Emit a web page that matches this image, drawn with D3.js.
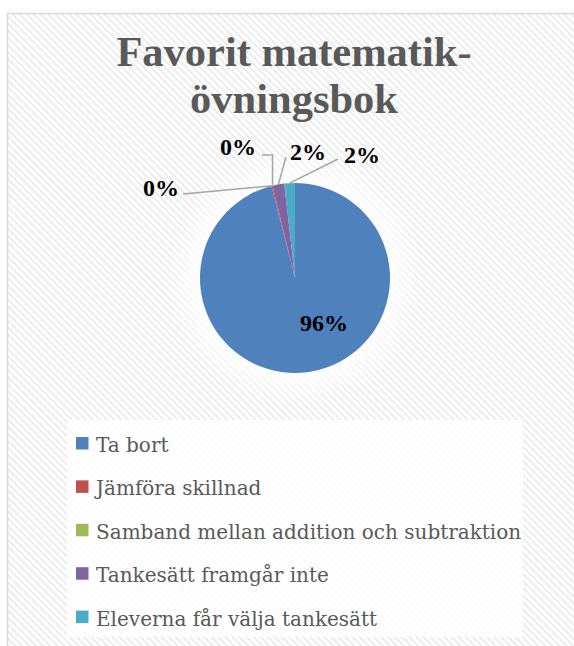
<!DOCTYPE html>
<html>
<head>
<meta charset="utf-8">
<script src="https://cdn.jsdelivr.net/npm/d3@7"></script>
<style>body{margin:0;background:#fff;overflow:hidden}</style>
</head>
<body>
<script>
// DATA
var categories = ["Ta bort", "Jämföra skillnad", "Samband mellan addition och subtraktion", "Tankesätt framgår inte", "Eleverna får välja tankesätt"];
var values = [96.0, 0.2, 0, 2.0, 1.8];
var colors = ["#4f81bd", "#c0504d", "#9bbb59", "#8064a2", "#4bacc6"];
var titleLines = ["Favorit matematik-", "övningsbok"];

// LAYOUT
var w = 574, h = 646;
var cx = 295, cy = 278, rad = 95;
// label centres relative to the pie centre (as placed in the original)
var labelPos = [[29, 45], [-134, -90], [-57, -131], [13, -126], [67, -123]];
// where each leader line leaves its label (null = no leader)
var leaderStart = [null, [-112, -84], [-33, -123], [-9, -121], [43, -119]];
var elbow = [false, false, true, false, false];

var svg = d3.select("body").append("svg")
  .attr("width", w)
  .attr("height", h);

var defs = svg.append("defs");
var pat = defs.append("pattern")
  .attr("id", "stripes")
  .attr("patternUnits", "userSpaceOnUse")
  .attr("width", 5)
  .attr("height", 5)
  .attr("patternTransform", "rotate(45)");
pat.append("rect").attr("width", 5).attr("height", 5).attr("fill", "#ffffff");
pat.append("rect").attr("width", 5).attr("height", 2.2).attr("fill", "#ededed");

var glow = defs.append("radialGradient").attr("id", "glow");
glow.append("stop").attr("offset", "0.7").attr("stop-color", "#fff").attr("stop-opacity", 1);
glow.append("stop").attr("offset", "1").attr("stop-color", "#fff").attr("stop-opacity", 0);

//CHART AREA
svg.append("rect")
  .attr("x", 7.5).attr("y", 13.5)
  .attr("width", 600).attr("height", 700)
  .attr("fill", "url(#stripes)")
  .attr("stroke", "#d9d9d9")
  .attr("stroke-width", 1.5);

//TITLE
svg.append("g").selectAll("text")
  .data(titleLines)
  .join("text")
  .attr("x", 294)
  .attr("y", function(d, i){ return 66 + i * 47; })
  .attr("text-anchor", "middle")
  .attr("font-family", "Liberation Serif, serif")
  .attr("font-weight", "bold")
  .attr("font-size", 42.5)
  .attr("fill", "#595959")
  .text(function(d){ return d; });

//PIE
var pie = d3.pie().sort(null).value(function(d){ return d; });
var arcs = pie(values);
var arc = d3.arc().innerRadius(0).outerRadius(rad);

var g = svg.append("g").attr("transform", "translate(" + cx + "," + cy + ")");

g.append("circle")
  .attr("r", rad * 1.35)
  .attr("fill", "url(#glow)");

g.selectAll("path.slice")
  .data(arcs)
  .join("path")
  .attr("class", "slice")
  .attr("d", arc)
  .attr("fill", function(d, i){ return colors[i]; });

function edgePoint(d){
  var a = (d.startAngle + d.endAngle) / 2;
  return [Math.sin(a) * rad, -Math.cos(a) * rad];
}

//LEADER LINES
g.selectAll("polyline")
  .data(arcs.filter(function(d, i){ return leaderStart[i]; }))
  .join("polyline")
  .attr("points", function(d){
    var i = d.index;
    var s = leaderStart[i], e = edgePoint(d);
    var pts = [s];
    if (elbow[i]) pts.push([e[0], s[1]]);
    pts.push(e);
    return pts.map(function(p){ return p.join(","); }).join(" ");
  })
  .attr("fill", "none")
  .attr("stroke", "#a6a6a6")
  .attr("stroke-width", 1.5);

//DATA LABELS
var total = d3.sum(values);
g.selectAll("text.lbl")
  .data(arcs)
  .join("text")
  .attr("class", "lbl")
  .attr("x", function(d, i){ return labelPos[i][0]; })
  .attr("y", function(d, i){ return labelPos[i][1]; })
  .attr("dy", "0.35em")
  .attr("text-anchor", "middle")
  .attr("font-family", "Liberation Serif, serif")
  .attr("font-weight", "bold")
  .attr("font-size", 24)
  .attr("fill", "#000")
  .text(function(d){ return Math.round(d.value / total * 100) + "%"; });

//LEGEND
svg.append("rect")
  .attr("x", 67).attr("y", 420)
  .attr("width", 456).attr("height", 217)
  .attr("fill", "#fff")
  .attr("opacity", 0.85);

var leg = svg.append("g").selectAll("g")
  .data(categories)
  .join("g")
  .attr("transform", function(d, i){ return "translate(76," + (452 + i * 43.4) + ")"; });

leg.append("rect")
  .attr("x", 0).attr("y", -15)
  .attr("width", 12.5).attr("height", 12.5)
  .attr("fill", function(d, i){ return colors[i]; });

leg.append("text")
  .attr("x", 20)
  .attr("y", 0)
  .attr("font-family", "DejaVu Serif, serif")
  .attr("font-size", 20)
  .attr("fill", "#595959")
  .text(function(d){ return d; });
</script>
</body>
</html>
